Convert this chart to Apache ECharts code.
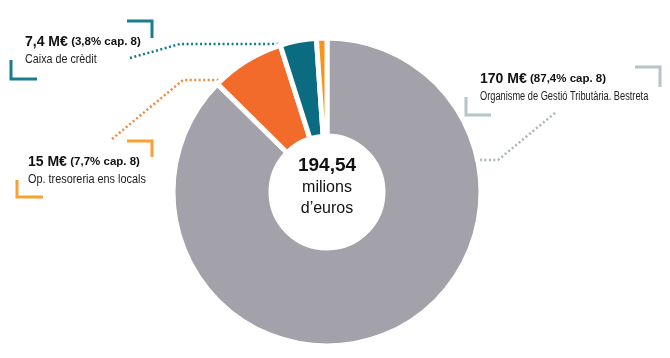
<!DOCTYPE html>
<html>
<head>
<meta charset="utf-8">
<script src="https://cdn.jsdelivr.net/npm/echarts@6/dist/echarts.min.js"></script>
<style>
html,body{margin:0;padding:0;background:#fff;}
#c{width:670px;height:358px;}
</style>
</head>
<body>
<div id="c"></div>
<script>
// ---- data ----
const categories = ['Organisme de Gestió Tributària. Bestreta', 'Op. tresoreria ens locals', 'Caixa de crèdit', 'Altres'];
const values = [170, 15, 7.4, 2.14];
const amountLabels = ['170 M€', '15 M€', '7,4 M€'];
const shareLabels = ['(87,4% cap. 8)', '(7,7% cap. 8)', '(3,8% cap. 8)'];
const totalLabel = ['194,54', 'milions', 'd\u2019euros'];

// ---- styles ----
const sliceColors = ['#a3a2ab', '#f26b2b', '#0b6b80', '#f7941d'];
const accentColors = ['#b4c5c7', '#f7a033', '#1a7c8e'];
const dotColors = ['#a9b5b9', '#f0873e', '#16788b'];
const sans = "'Liberation Sans', Arial, sans-serif";

// callout layout (annotation positions)
const callouts = [
  {tx: 480, ty: 79, sx: 0.74, br1: [[635,67],[660,67],[660,87]], br2: [[466,97],[466,115],[491,115]], line: [[555,113],[498,160],[470,160]]},
  {tx: 28, ty: 162, sx: 0.87, br1: [[127,141],[152,141],[152,157]], br2: [[17,180],[17,197],[43,197]], line: [[112,139],[183,80],[226,80]]},
  {tx: 25, ty: 42, sx: 0.86, br1: [[127,21],[152,21],[152,38]], br2: [[11,60],[11,79],[37,79]], line: [[130,58],[180,44],[286,44]]}
];

const chart = echarts.init(document.getElementById('c'), null, {renderer: 'canvas'});

const graphics = [];
callouts.forEach((c, i) => {
  graphics.push({
    type: 'polyline', shape: {points: c.br1}, silent: true,
    style: {stroke: accentColors[i], lineWidth: 3, fill: null}
  });
  graphics.push({
    type: 'polyline', shape: {points: c.br2}, silent: true,
    style: {stroke: accentColors[i], lineWidth: 3, fill: null}
  });
  graphics.push({
    type: 'polyline', shape: {points: c.line}, silent: true,
    style: {stroke: dotColors[i], lineWidth: 2.5, lineDash: [2, 2.5], fill: null}
  });
  graphics.push({
    type: 'text', x: c.tx, y: c.ty, silent: true,
    style: {
      text: '{a|' + amountLabels[i] + '} {b|' + shareLabels[i] + '}',
      verticalAlign: 'middle',
      rich: {
        a: {fontFamily: sans, fontWeight: 'bold', fontSize: 14, fill: '#111'},
        b: {fontFamily: sans, fontWeight: 'bold', fontSize: 11.5, fill: '#111'}
      }
    }
  });
  graphics.push({
    type: 'text', x: c.tx, y: c.ty + 18, scaleX: c.sx, silent: true,
    style: {
      text: categories[i], verticalAlign: 'middle',
      fontFamily: sans, fontSize: 12.5, fill: '#222'
    }
  });
});

graphics.push({
  type: 'text', silent: true, x: 327, y: 155,
  style: {
    text: '{t|' + totalLabel[0] + '}\n{u|' + totalLabel[1] + '}\n{u|' + totalLabel[2] + '}',
    align: 'center',
    rich: {
      t: {fontFamily: sans, fontWeight: 'bold', fontSize: 19, fill: '#111', lineHeight: 22, align: 'center'},
      u: {fontFamily: sans, fontSize: 16, fill: '#111', lineHeight: 21, align: 'center'}
    }
  }
});

chart.setOption({
  animation: false,
  backgroundColor: '#fff',
  series: [{
    type: 'pie',
    center: [327, 192],
    radius: [56, 154],
    startAngle: 90,
    clockwise: true,
    avoidLabelOverlap: false,
    label: {show: false},
    labelLine: {show: false},
    itemStyle: {borderColor: '#fff', borderWidth: 5},
    data: values.map((v, i) => ({name: categories[i], value: v, itemStyle: {color: sliceColors[i]}}))
  }],
  graphic: graphics
});
</script>
</body>
</html>
